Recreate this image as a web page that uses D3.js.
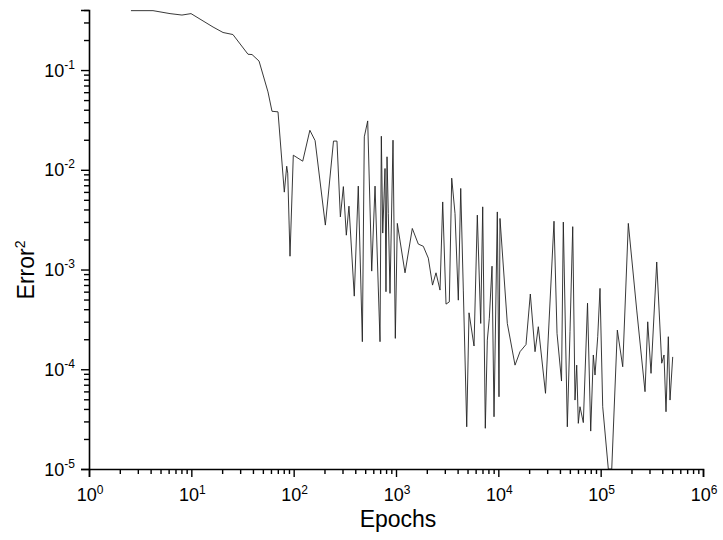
<!DOCTYPE html>
<html><head><meta charset="utf-8">
<script src="https://cdn.jsdelivr.net/npm/d3@7"></script>
<style>body{margin:0;background:#fff}svg{display:block}text{font-family:"Liberation Sans",Arial,sans-serif;fill:#000}</style>
</head><body><svg id="c" width="723" height="540"></svg>
<script>
const epochs = [2.57,4.22,6.19,8.10,9.93,16.3,20.4,25.5,35.8,39.2,45.9,56.1,61.4,70.3,81.0,85.5,87.5,92.1,99.2,122.6,
144,162,204,245,265,286,306,327,347,391,428,469,490,529,579,624,698,719,742,781,
798,817,841,874,935,985,1030,1225,1443,1652,1849,2069,2275,2460,2692,2861,3082,3319,3503,3773,
4064,4290,4548,4910,5171,5787,6232,6726,7037,7460,7804,8164,8677,9075,9773,10150,10380,12240,14560,16290,
18640,20540,22830,24590,28910,35000,37450,41450,43150,47220,50170,53330,56140,58340,60470,62830,67690,74390,79940,84760,
88050,93590,98530,104700,118800,128300,145500,164300,186300,225100,271300,288300,310500,353000,395100,415900,435000,458300,476200,505900];
const errors = [0.394,0.394,0.368,0.356,0.368,0.270,0.238,0.227,0.144,0.143,0.123,0.0604,0.0386,0.0381,0.00597,0.01086,0.00925,0.00136,0.0140,0.0122,
0.0249,0.0196,0.00279,0.0194,0.0194,0.00337,0.00678,0.00221,0.00432,0.000541,0.00686,0.000189,0.0214,0.0309,0.000964,0.00686,0.000189,0.0217,0.00232,0.0103,
0.000599,0.0135,0.00365,0.000577,0.0198,0.000204,0.00290,0.000927,0.00258,0.00180,0.00171,0.00130,0.000698,0.000927,0.000622,0.00476,0.000450,0.000474,0.00824,0.00365,
0.000493,0.00650,0.000622,0.0000265,0.000368,0.000171,0.00351,0.000288,0.00425,0.0000256,0.000196,0.000324,0.00108,0.0000334,0.00378,0.0000530,0.00325,0.000288,0.000110,0.000150,
0.000177,0.000568,0.000150,0.000267,0.0000574,0.00305,0.000229,0.0000762,0.00299,0.0000265,0.000238,0.00269,0.0000491,0.000110,0.0000287,0.0000421,0.0000292,0.000460,0.0000240,0.000139,
0.0000875,0.000212,0.000647,0.0000421,0.0000100,0.0000100,0.000247,0.000106,0.00290,0.000392,0.0000596,0.000299,0.0000910,0.00119,0.000115,0.000139,0.0000375,0.000212,0.0000491,0.000133];
const xMajorExps = [0,1,2,3,4,5,6];
const yMajorExps = [-5,-4,-3,-2,-1];
const xLabel = "Epochs";
const yLabel = "Error";
const yLabelSup = "2";

const svg = d3.select("#c");
const L=89, R=703, T=10, B=469;
const x = d3.scaleLog().domain([1,1e6]).range([L,R]);
const y = d3.scaleLog().domain([1e-5,0.4]).range([B,T]);

function minors(lo, hi){const m=[];for(let e=Math.floor(Math.log10(lo));e<Math.log10(hi);e++){for(let k=2;k<=9;k++){const v=k*Math.pow(10,e);if(v>=lo&&v<=hi+1e-12)m.push(v);}}return m;}

const gx = svg.append("g").attr("transform",`translate(0,${B})`);
gx.call(d3.axisBottom(x).tickValues(xMajorExps.map(e=>Math.pow(10,e))).tickSize(8).tickFormat(()=>""));
const gxm = svg.append("g").attr("transform",`translate(0,${B})`);
gxm.call(d3.axisBottom(x).tickValues(minors(1,1e6)).tickSize(5).tickFormat(()=>""));
gxm.select(".domain").remove();

const gy = svg.append("g").attr("transform",`translate(${L},0)`);
gy.call(d3.axisLeft(y).tickValues(yMajorExps.map(e=>Math.pow(10,e))).tickSize(8).tickFormat(()=>""));
const gym = svg.append("g").attr("transform",`translate(${L},0)`);
gym.call(d3.axisLeft(y).tickValues(minors(1e-5,0.4)).tickSize(5).tickFormat(()=>""));
gym.select(".domain").remove();

svg.selectAll(".domain").attr("stroke","#000").attr("stroke-width",1.6);
svg.selectAll(".tick line").attr("stroke","#000").attr("stroke-width",1.4);

xMajorExps.forEach(e=>{
  const t = svg.append("text").attr("x",x(Math.pow(10,e))+1).attr("y",501).attr("text-anchor","middle").attr("font-size",18);
  t.append("tspan").text("10");
  t.append("tspan").attr("dy",-7.5).attr("font-size",12).text(String(e));
});
yMajorExps.forEach(e=>{
  const t = svg.append("text").attr("x",75).attr("y",y(Math.pow(10,e))+6.5).attr("text-anchor","end").attr("font-size",18);
  t.append("tspan").text("10");
  t.append("tspan").attr("dy",-8).attr("font-size",12).text(String(e));
});

svg.append("text").attr("x",398).attr("y",527).attr("text-anchor","middle").attr("font-size",23).text(xLabel);
const yl = svg.append("text").attr("transform",`translate(34,270) rotate(-90)`).attr("text-anchor","middle").attr("font-size",23);
yl.append("tspan").text(yLabel);
yl.append("tspan").attr("dy",-9).attr("font-size",14).text(yLabelSup);

svg.append("clipPath").attr("id","clip").append("rect").attr("x",L).attr("y",T-2).attr("width",R-L).attr("height",B-T+2);
const data = epochs.map((d,i)=>[d,errors[i]]);
svg.append("path").datum(data).attr("clip-path","url(#clip)")
  .attr("fill","none").attr("stroke","#222").attr("stroke-width",0.9).attr("stroke-linejoin","miter")
  .attr("d",d3.line().x(d=>x(d[0])).y(d=>y(d[1])));
</script></body></html>
